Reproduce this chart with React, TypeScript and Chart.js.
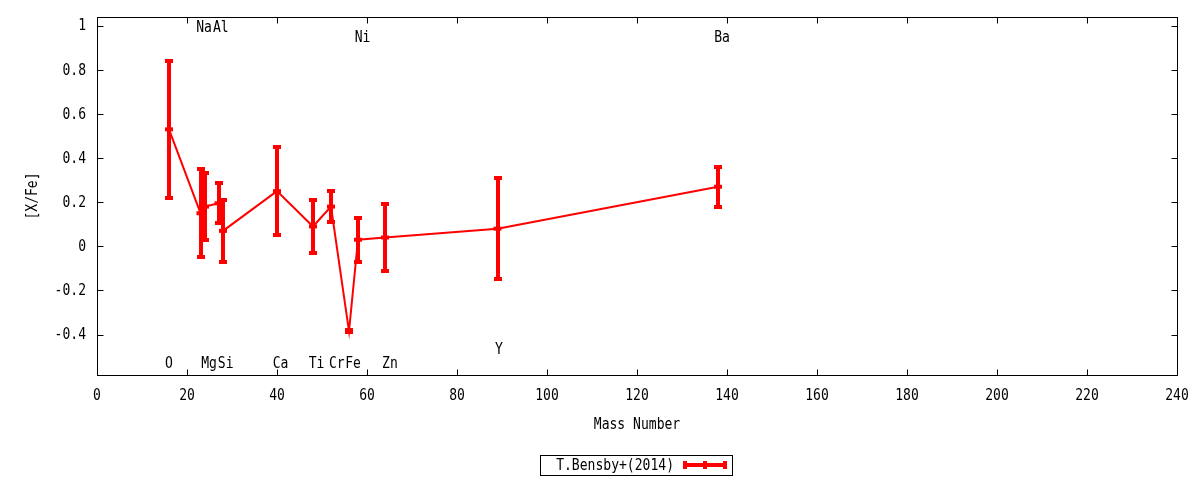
import { useEffect, useRef } from 'react';
import { Chart, registerables } from 'chart.js';

Chart.register(...registerables);

// ---- data ----
const elements = ['O', 'Na', 'Mg', 'Al', 'Si', 'Ca', 'Ti', 'Cr', 'Fe', 'Ni', 'Zn', 'Y', 'Ba'];
const massNumbers = [16, 23, 24, 27, 28, 40, 48, 52, 56, 58, 64, 89, 138];
const abundances = [0.53, 0.15, 0.18, 0.195, 0.07, 0.25, 0.09, 0.18, -0.385, 0.03, 0.04, 0.08, 0.27];
const errors = [0.31, 0.2, 0.15, 0.09, 0.14, 0.2, 0.12, 0.07, 0.005, 0.1, 0.15, 0.23, 0.09];
const labelX = [16, 23.8, 24.9, 27.5, 28.6, 40.8, 48.8, 53.3, 56.9, 59, 65.1, 89.3, 138.9];
const labelY = [-0.527, 0.995, -0.527, 0.995, -0.527, -0.527, -0.527, -0.527, -0.527, 0.946, -0.527, -0.464, 0.946];
const xTicks = [0, 20, 40, 60, 80, 100, 120, 140, 160, 180, 200, 220, 240];
const yTicks = [-0.4, -0.2, 0, 0.2, 0.4, 0.6, 0.8, 1];
const seriesLabel = 'T.Bensby+(2014)';
const xTitle = 'Mass Number';
const yTitle = '[X/Fe]';

const RED = '#ff0000';
const FONT_FAMILY = "'DejaVu Sans Mono', monospace";
const FONT_SIZE = 15;
const FONT_XSCALE = 0.87;

function drawText(ctx: CanvasRenderingContext2D, s: string, x: number, y: number, align: CanvasTextAlign, rot = 0) {
  ctx.save();
  ctx.translate(x, y);
  if (rot) ctx.rotate(rot);
  ctx.scale(FONT_XSCALE, 1);
  ctx.font = `${FONT_SIZE}px ${FONT_FAMILY}`;
  ctx.fillStyle = '#000';
  ctx.textAlign = align;
  ctx.textBaseline = 'middle';
  ctx.fillText(s, 0, 1);
  ctx.restore();
}

export default function App() {
  const ref = useRef<HTMLCanvasElement>(null);

  useEffect(() => {
    const canvas = ref.current!;

    const decor = {
      id: 'gnuplotDecor',
      afterDatasetsDraw(chart: any) {
        const ctx = chart.ctx;
        const xs = chart.scales.x;
        const ys = chart.scales.y;
        ctx.save();
        ctx.strokeStyle = RED;
        ctx.lineWidth = 4;
        ctx.lineCap = 'butt';
        massNumbers.forEach((m, i) => {
          const px = Math.round(xs.getPixelForValue(m));
          const top = Math.round(ys.getPixelForValue(abundances[i] + errors[i]));
          const bot = Math.round(ys.getPixelForValue(abundances[i] - errors[i]));
          ctx.beginPath();
          ctx.moveTo(px, top - 2);
          ctx.lineTo(px, bot + 2);
          ctx.moveTo(px - 4, top);
          ctx.lineTo(px + 4, top);
          ctx.moveTo(px - 4, bot);
          ctx.lineTo(px + 4, bot);
          ctx.stroke();
        });
        ctx.restore();
      },
      afterDraw(chart: any) {
        const ctx = chart.ctx;
        const xs = chart.scales.x;
        const ys = chart.scales.y;
        const a = chart.chartArea;
        ctx.save();
        // frame
        ctx.strokeStyle = '#000';
        ctx.lineWidth = 1;
        const L = Math.round(a.left) + 0.5;
        const R = Math.round(a.right) + 0.5;
        const T = Math.round(a.top) + 0.5;
        const B = Math.round(a.bottom) + 0.5;
        ctx.strokeRect(L, T, R - L, B - T);
        // inward ticks
        ctx.beginPath();
        xTicks.forEach((v) => {
          const px = Math.round(xs.getPixelForValue(v)) + 0.5;
          ctx.moveTo(px, B);
          ctx.lineTo(px, B - 6);
          ctx.moveTo(px, T);
          ctx.lineTo(px, T + 6);
        });
        yTicks.forEach((v) => {
          const py = Math.round(ys.getPixelForValue(v)) + 0.5;
          ctx.moveTo(L, py);
          ctx.lineTo(L + 6, py);
          ctx.moveTo(R, py);
          ctx.lineTo(R - 6, py);
        });
        ctx.stroke();

        // tick labels
        xTicks.forEach((v) => {
          drawText(ctx, String(v), xs.getPixelForValue(v), 395, 'center');
        });
        yTicks.forEach((v) => {
          drawText(ctx, String(v), 86, ys.getPixelForValue(v), 'right');
        });

        // element labels
        elements.forEach((el, i) => {
          drawText(ctx, el, xs.getPixelForValue(labelX[i]), ys.getPixelForValue(labelY[i]), 'center');
        });

        // axis titles
        drawText(ctx, xTitle, (a.left + a.right) / 2, 424, 'center');
        drawText(ctx, yTitle, 32, (a.top + a.bottom) / 2, 'center', -Math.PI / 2);

        // legend
        ctx.strokeStyle = '#000';
        ctx.lineWidth = 1;
        ctx.strokeRect(540.5, 455.5, 192, 20);
        drawText(ctx, seriesLabel, 674, 465, 'right');
        ctx.strokeStyle = RED;
        ctx.lineWidth = 4;
        const ly = 465;
        ctx.beginPath();
        ctx.moveTo(683, ly);
        ctx.lineTo(727, ly);
        [685, 705, 725].forEach((x) => {
          ctx.moveTo(x, ly - 4);
          ctx.lineTo(x, ly + 4);
        });
        ctx.stroke();
        ctx.restore();
      },
    };

    const chart = new Chart(canvas, {
      type: 'line',
      data: {
        datasets: [
          {
            label: seriesLabel,
            data: massNumbers.map((x, i) => ({ x, y: abundances[i] })),
            borderColor: RED,
            backgroundColor: RED,
            borderWidth: 2,
            pointStyle: 'line',
            pointRadius: 4,
            pointBorderWidth: 4,
            pointBorderColor: RED,
            tension: 0,
            fill: false,
          },
        ],
      },
      options: {
        responsive: false,
        animation: false,
        devicePixelRatio: 1,
        layout: { padding: { top: 17, right: 23, left: 0, bottom: 0 } },
        plugins: { legend: { display: false }, tooltip: { enabled: false } },
        scales: {
          x: {
            type: 'linear',
            min: 0,
            max: 240,
            ticks: { display: false, stepSize: 20, includeBounds: false },
            grid: { display: false, drawTicks: false },
            border: { display: false },
            afterFit: (s: any) => {
              s.height = 105;
              s.paddingLeft = 0;
              s.paddingRight = 0;
            },
          },
          y: {
            type: 'linear',
            min: -0.583,
            max: 1.039,
            ticks: { display: false, stepSize: 0.2, includeBounds: false },
            grid: { display: false, drawTicks: false },
            border: { display: false },
            afterFit: (s: any) => {
              s.width = 97;
              s.paddingTop = 0;
              s.paddingBottom = 0;
            },
          },
        },
      },
      plugins: [decor],
    } as any);

    return () => chart.destroy();
  }, []);

  return (
    <div style={{ position: 'fixed', left: 0, top: 0, width: 1200, height: 480, background: '#fff' }}>
      <canvas ref={ref} width={1200} height={480} style={{ width: 1200, height: 480, display: 'block' }} />
    </div>
  );
}
